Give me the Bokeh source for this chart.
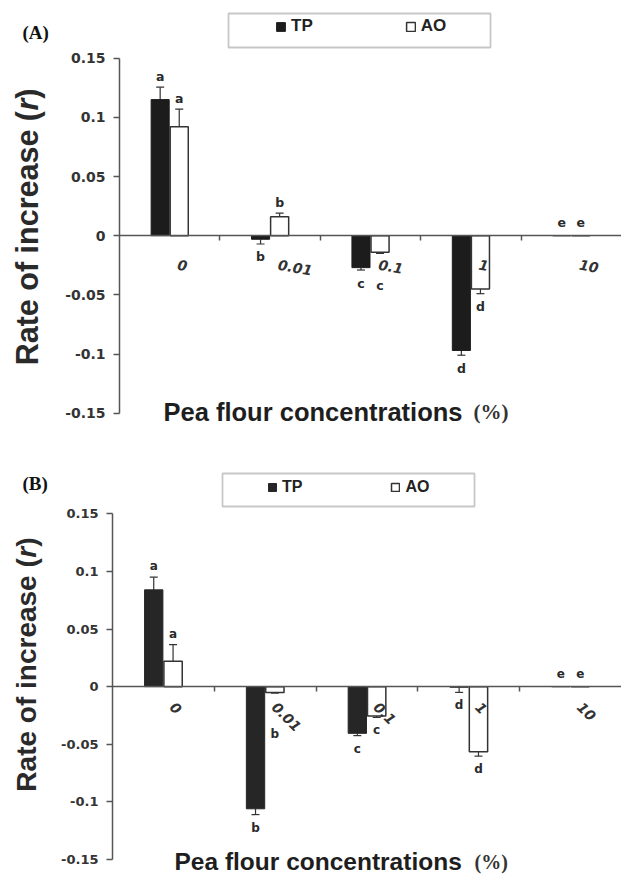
import math
import numpy as np
from bokeh.plotting import figure
from bokeh.models import (Range1d, FixedTicker, NumeralTickFormatter, Label, Legend,
                          LegendItem, BoxAnnotation, Whisker, TeeHead, ColumnDataSource)
from bokeh.layouts import column
from bokeh.embed import file_html
from bokeh.resources import INLINE
from bokeh.core.properties import value

# ---------------- data ----------------
concentrations = ["0", "0.01", "0.1", "1", "10"]
series_names = ["TP", "AO"]
y_ticks = [-0.15, -0.1, -0.05, 0.0, 0.05, 0.1, 0.15]

# Panel (A)
a_tp = [0.115, -0.003, -0.027, -0.097, 0.0]
a_tp_err = [0.0105, 0.004, 0.002, 0.004, 0.0]
a_ao = [0.092, 0.016, -0.014, -0.045, 0.0]
a_ao_err = [0.015, 0.003, 0.001, 0.004, 0.0]
a_tp_letters = ["a", "b", "c", "d", "e"]
a_ao_letters = ["a", "b", "c", "d", "e"]

# Panel (B)
b_tp = [0.084, -0.106, -0.0405, -0.0005, 0.0]
b_tp_err = [0.011, 0.005, 0.002, 0.0045, 0.0]
b_ao = [0.022, -0.005, -0.0255, -0.0565, 0.0]
b_ao_err = [0.0145, 0.0006, 0.0012, 0.0038, 0.0]
b_tp_letters = ["a", "b", "c", "d", "e"]
b_ao_letters = ["a", "b", "c", "d", "e"]

# ---------------- styling / layout ----------------
SANS = "Liberation Sans"
WIDE = "DejaVu Sans"
SERIF = "Liberation Serif"
AXIS_COLOR = "#555555"
TEXT_COLOR = "#2a2a2a"
W = 621

PANELS = {
    "A": dict(H=440, left=119, top=57.7, bottom=412.7, tp_color="#1c1c1c",
              tag_x=22, tag_mid=32, tag_size=19,
              ylab_x=26, ylab_top=88, ylab_size=30.5,
              xlab_x=163, xlab_mid=411, xlab_size=25.5, pct_x=473, pct_size=21,
              leg_box=(228, 490, 13, 47), leg_glyph_x=275, leg_center=30.5, leg_glyph=11,
              leg_spacing=92, leg_font="17px",
              tick_dx=8, tick_dy=29, tick_angle=-10, tick_size="14px", letter_size="12.5px",
              ytick_size="14px",
              letter_shift={("AO", 2): 19}),
    "B": dict(H=434, left=112, top=73.3, bottom=419.0, tp_color="#262626",
              tag_x=22, tag_mid=43, tag_size=19,
              ylab_x=26, ylab_top=97, ylab_size=28,
              xlab_x=174, xlab_mid=421, xlab_size=24.5, pct_x=474, pct_size=20,
              leg_box=(222, 474, 33, 66), leg_glyph_x=267, leg_center=50.5, leg_glyph=10,
              leg_spacing=88, leg_font="16px",
              tick_dx=9, tick_dy=18, tick_angle=-45, tick_size="14px", letter_size="12px",
              ytick_size="13px",
              letter_shift={("AO", 1): 28}),
}

BAR_W = 0.18
DODGE = 0.095


def build(name, tp, tp_err, ao, ao_err, tp_let, ao_let):
    g = PANELS[name]
    H = g["H"]
    n = len(concentrations)
    ymin, ymax = y_ticks[0], y_ticks[-1]
    ppu = (W - g["left"]) / n
    ppy = (g["bottom"] - g["top"]) / (ymax - ymin)
    y0 = g["top"] + ymax * ppy  # canvas row of value 0

    def dx(X):
        return (X - g["left"]) / ppu

    def dy(Y):
        return (y0 - Y) / ppy

    p = figure(width=W, height=H, x_range=Range1d(dx(0), dx(W)),
               y_range=Range1d(dy(H), dy(0)),
               output_backend="svg", toolbar_location=None,
               min_border_left=0, min_border_right=0,
               min_border_top=0, min_border_bottom=0)
    p.outline_line_color = None
    p.grid.visible = False
    p.background_fill_color = "white"
    p.border_fill_color = "white"

    centers = np.arange(n) + 0.5

    # bars
    r_tp = p.vbar(x=centers - DODGE, top=tp, bottom=0, width=BAR_W,
                  fill_color=g["tp_color"], line_color=g["tp_color"], line_width=1)
    r_ao = p.vbar(x=centers + DODGE, top=ao, bottom=0, width=BAR_W,
                  fill_color="white", line_color="#333333", line_width=1.5)

    # error bars (one-sided, outward) and significance letters
    up = dict(x=[], lo=[], hi=[])
    dn = dict(x=[], lo=[], hi=[])
    letters = dict(x=[], y=[], t=[], yo=[])
    for sname, vals, errs, lets, off in (("TP", tp, tp_err, tp_let, -DODGE),
                                           ("AO", ao, ao_err, ao_let, DODGE)):
        for i, (v, e, l) in enumerate(zip(vals, errs, lets)):
            x = centers[i] + off
            shift = g["letter_shift"].get((sname, i), 0)
            if v >= 0:
                if e > 0:
                    up["x"].append(x); up["lo"].append(v); up["hi"].append(v + e)
                letters["x"].append(x); letters["y"].append(v + e)
                letters["t"].append(l); letters["yo"].append(-11 - shift - (2 if e == 0 else 0))
            else:
                if e > 0:
                    dn["x"].append(x); dn["lo"].append(v - e); dn["hi"].append(v)
                letters["x"].append(x); letters["y"].append(v - e)
                letters["t"].append(l); letters["yo"].append(13 + shift)

    p.add_layout(Whisker(source=ColumnDataSource(up), base="x", lower="lo", upper="hi",
                         lower_head=None,
                         upper_head=TeeHead(size=8, line_color="#333333", line_width=1.2),
                         line_color="#333333", line_width=1.2))
    p.add_layout(Whisker(source=ColumnDataSource(dn), base="x", lower="lo", upper="hi",
                         upper_head=None,
                         lower_head=TeeHead(size=8, line_color="#333333", line_width=1.2),
                         line_color="#333333", line_width=1.2))

    p.text(x="x", y="y", text="t", y_offset="yo", source=ColumnDataSource(letters),
           text_font=value(WIDE), text_font_style="bold", text_font_size=g["letter_size"],
           text_align="center", text_baseline="middle", text_color=TEXT_COLOR)

    # category labels along the zero axis
    p.text(x=centers, y=[0.0] * n, text=concentrations,
           x_offset=g["tick_dx"], y_offset=g["tick_dy"], angle=math.radians(g["tick_angle"]),
           text_font=value(WIDE), text_font_style="bold italic", text_font_size=g["tick_size"],
           text_align="left", text_baseline="middle", text_color="#333333")

    # axes (drawn at fixed data locations inside the full-canvas frame)
    xa = p.xaxis[0]
    xa.fixed_location = 0
    xa.bounds = (0, n)
    xa.ticker = FixedTicker(ticks=[], minor_ticks=list(range(1, n)))
    xa.major_tick_line_color = None
    xa.minor_tick_in = 0
    xa.minor_tick_out = 5
    xa.minor_tick_line_color = AXIS_COLOR
    xa.minor_tick_line_width = 1.5
    xa.axis_line_color = AXIS_COLOR
    xa.axis_line_width = 1.5

    ya = p.yaxis[0]
    ya.fixed_location = 0
    ya.bounds = (ymin, ymax)
    ya.ticker = FixedTicker(ticks=y_ticks)
    ya.formatter = NumeralTickFormatter(format="0.[00]")
    ya.major_tick_in = 0
    ya.major_tick_out = 6
    ya.minor_tick_line_color = None
    ya.axis_line_color = AXIS_COLOR
    ya.axis_line_width = 1.5
    ya.major_tick_line_color = AXIS_COLOR
    ya.major_tick_line_width = 1.5
    ya.major_label_text_font = WIDE
    ya.major_label_text_font_style = "bold"
    ya.major_label_text_font_size = g["ytick_size"]
    ya.major_label_text_color = "#333333"
    ya.major_label_standoff = 8

    # legend box + legend
    bl, br, bt, bb = g["leg_box"]
    p.add_layout(BoxAnnotation(left=dx(bl), right=dx(br), top=dy(bt), bottom=dy(bb),
                               fill_color="white", fill_alpha=1.0,
                               line_color="#444444", line_width=1.8))
    gh = g["leg_glyph"]
    leg = Legend(items=[LegendItem(label=series_names[0], renderers=[r_tp]),
                        LegendItem(label=series_names[1], renderers=[r_ao])],
                 orientation="horizontal",
                 location=(g["leg_glyph_x"], H - (g["leg_center"] + gh / 2)),
                 padding=0, margin=0, spacing=g["leg_spacing"],
                 glyph_width=gh, glyph_height=gh, label_height=gh, label_width=10,
                 label_standoff=5,
                 border_line_color=None, background_fill_alpha=0,
                 label_text_font=SANS, label_text_font_style="bold",
                 label_text_font_size=g["leg_font"], label_text_color="#222222")
    p.add_layout(leg)

    # panel tag
    p.add_layout(Label(x=dx(g["tag_x"]), y=dy(g["tag_mid"]),
                       text=f"({name})", text_font=SERIF, text_font_style="bold",
                       text_font_size=f"{g['tag_size']}px", text_color="#111111",
                       text_baseline="middle", text_align="left"))

    # y axis title: "Rate of increase (r)" with italic r
    ys = g["ylab_size"]
    close_w = 0.333 * ys
    r_w = 0.389 * ys
    top = g["ylab_top"]
    common = dict(x=dx(g["ylab_x"]), angle=math.pi / 2,
                  text_font=SANS, text_font_size=f"{ys}px", text_color=TEXT_COLOR,
                  text_baseline="middle")
    p.add_layout(Label(y=dy(top), text=")", text_align="right", text_font_style="bold", **common))
    p.add_layout(Label(y=dy(top + close_w + r_w / 2), text="r", text_align="center",
                       text_font_style="bold italic", **common))
    p.add_layout(Label(y=dy(top + close_w + r_w + 0.5), text="Rate of increase (",
                       text_align="right", text_font_style="bold", **common))

    # x axis title
    p.add_layout(Label(x=dx(g["xlab_x"]), y=dy(g["xlab_mid"]),
                       text="Pea flour concentrations", text_font=SANS, text_font_style="bold",
                       text_font_size=f"{g['xlab_size']}px", text_color="#1e1e1e",
                       text_baseline="middle", text_align="left"))
    p.add_layout(Label(x=dx(g["pct_x"]), y=dy(g["xlab_mid"]),
                       text="(%)", text_font=SERIF, text_font_style="bold",
                       text_font_size=f"{g['pct_size']}px", text_color="#333333",
                       text_baseline="middle", text_align="left"))
    return p


pA = build("A", a_tp, a_tp_err, a_ao, a_ao_err, a_tp_letters, a_ao_letters)
pB = build("B", b_tp, b_tp_err, b_ao, b_ao_err, b_tp_letters, b_ao_letters)

layout = column(pA, pB, spacing=0)
open("out.html", "w").write(file_html(layout, INLINE))
